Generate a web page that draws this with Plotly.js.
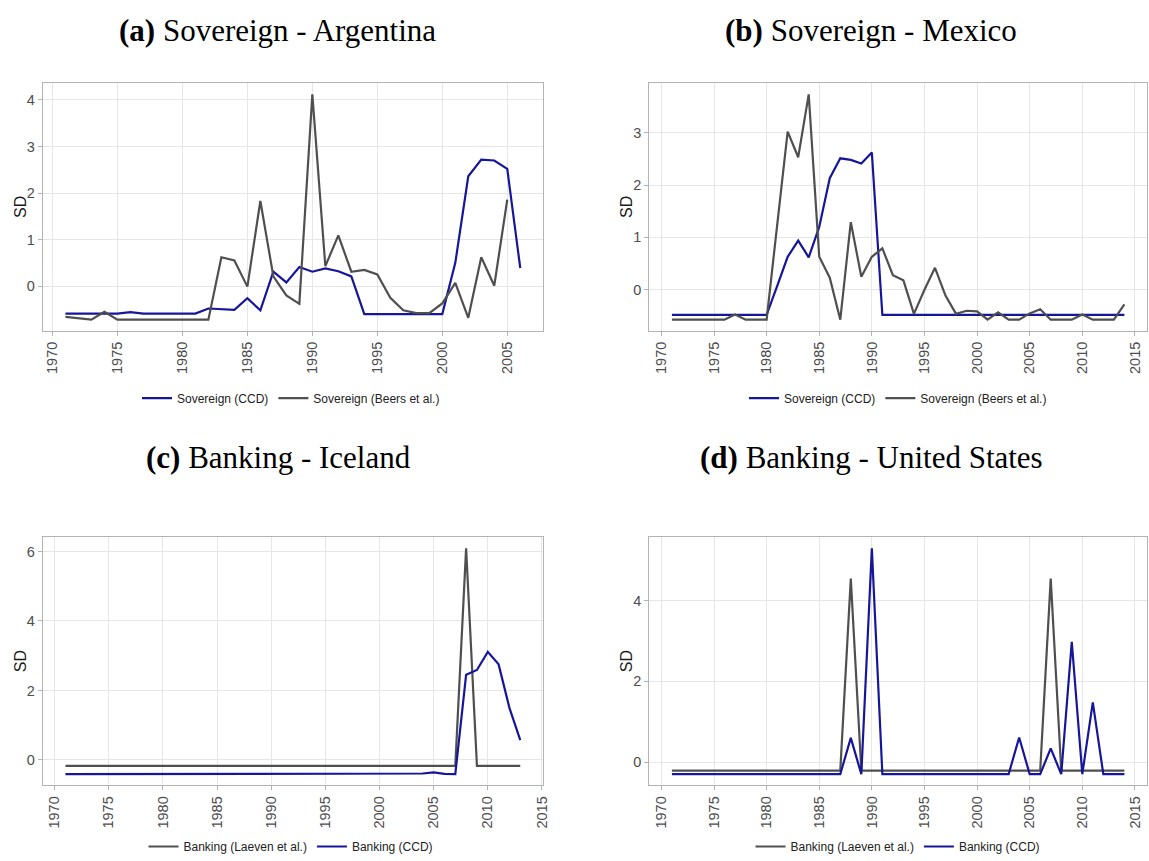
<!DOCTYPE html>
<html>
<head>
<meta charset="utf-8">
<script src="https://cdn.plot.ly/plotly-3.0.1.min.js"></script>
<style>html,body{margin:0;padding:0;background:#fff;}#chart{width:1149px;height:861px;}</style>
</head>
<body>
<div id="chart"></div>
<script>
// ---------- DATA ----------
const YEARS_ARG = [1971,1972,1973,1974,1975,1976,1977,1978,1979,1980,1981,1982,1983,1984,1985,1986,1987,1988,1989,1990,1991,1992,1993,1994,1995,1996,1997,1998,1999,2000,2001,2002,2003,2004,2005,2006];
const ARG_CCD = [-0.59,-0.59,-0.59,-0.59,-0.59,-0.56,-0.59,-0.59,-0.59,-0.59,-0.59,-0.48,-0.49,-0.51,-0.26,-0.52,0.31,0.08,0.41,0.31,0.38,0.32,0.21,-0.60,-0.60,-0.60,-0.60,-0.60,-0.60,-0.60,0.50,2.36,2.72,2.70,2.52,0.39];
const YEARS_ARG_BEERS = [1971,1972,1973,1974,1975,1976,1977,1978,1979,1980,1981,1982,1983,1984,1985,1986,1987,1988,1989,1990,1991,1992,1993,1994,1995,1996,1997,1998,1999,2000,2001,2002,2003,2004,2005];
const ARG_BEERS = [-0.66,-0.69,-0.72,-0.55,-0.72,-0.72,-0.72,-0.72,-0.72,-0.72,-0.72,-0.72,0.62,0.55,-0.01,1.83,0.21,-0.20,-0.38,4.12,0.43,1.09,0.31,0.35,0.25,-0.25,-0.52,-0.58,-0.58,-0.37,0.07,-0.68,0.62,0.01,1.86];

const YEARS_MEX = [1971,1972,1973,1974,1975,1976,1977,1978,1979,1980,1981,1982,1983,1984,1985,1986,1987,1988,1989,1990,1991,1992,1993,1994,1995,1996,1997,1998,1999,2000,2001,2002,2003,2004,2005,2006,2007,2008,2009,2010,2011,2012,2013,2014];
const MEX_CCD = [-0.48,-0.48,-0.48,-0.48,-0.48,-0.48,-0.48,-0.48,-0.48,-0.48,0.07,0.63,0.94,0.62,1.20,2.13,2.51,2.48,2.41,2.62,-0.48,-0.48,-0.48,-0.48,-0.48,-0.48,-0.48,-0.48,-0.48,-0.48,-0.48,-0.48,-0.48,-0.48,-0.48,-0.48,-0.48,-0.48,-0.48,-0.48,-0.48,-0.48,-0.48,-0.48];
const MEX_BEERS = [-0.57,-0.57,-0.57,-0.57,-0.57,-0.57,-0.47,-0.57,-0.57,-0.57,1.23,3.02,2.53,3.73,0.63,0.23,-0.57,1.29,0.25,0.63,0.79,0.28,0.18,-0.46,0.00,0.42,-0.11,-0.46,-0.40,-0.41,-0.57,-0.43,-0.57,-0.57,-0.45,-0.37,-0.57,-0.57,-0.57,-0.47,-0.57,-0.57,-0.57,-0.28];

const YEARS_ICE = [1971,1972,1973,1974,1975,1976,1977,1978,1979,1980,1981,1982,1983,1984,1985,1986,1987,1988,1989,1990,1991,1992,1993,1994,1995,1996,1997,1998,1999,2000,2001,2002,2003,2004,2005,2006,2007,2008,2009,2010,2011,2012,2013];
const ICE_LAEVEN = [-0.17,-0.17,-0.17,-0.17,-0.17,-0.17,-0.17,-0.17,-0.17,-0.17,-0.17,-0.17,-0.17,-0.17,-0.17,-0.17,-0.17,-0.17,-0.17,-0.17,-0.17,-0.17,-0.17,-0.17,-0.17,-0.17,-0.17,-0.17,-0.17,-0.17,-0.17,-0.17,-0.17,-0.17,-0.17,-0.17,-0.17,6.09,-0.17,-0.17,-0.17,-0.17,-0.17];
const ICE_CCD = [-0.41,-0.41,-0.41,-0.41,-0.41,-0.41,-0.41,-0.41,-0.41,-0.41,-0.41,-0.41,-0.41,-0.41,-0.41,-0.41,-0.41,-0.41,-0.41,-0.41,-0.41,-0.41,-0.41,-0.41,-0.41,-0.41,-0.41,-0.41,-0.41,-0.41,-0.41,-0.41,-0.41,-0.39,-0.36,-0.40,-0.41,2.45,2.59,3.11,2.75,1.50,0.57];

const YEARS_US = [1971,1972,1973,1974,1975,1976,1977,1978,1979,1980,1981,1982,1983,1984,1985,1986,1987,1988,1989,1990,1991,1992,1993,1994,1995,1996,1997,1998,1999,2000,2001,2002,2003,2004,2005,2006,2007,2008,2009,2010,2011,2012,2013,2014];
const US_LAEVEN = [-0.21,-0.21,-0.21,-0.21,-0.21,-0.21,-0.21,-0.21,-0.21,-0.21,-0.21,-0.21,-0.21,-0.21,-0.21,-0.21,-0.21,4.55,-0.21,-0.21,-0.21,-0.21,-0.21,-0.21,-0.21,-0.21,-0.21,-0.21,-0.21,-0.21,-0.21,-0.21,-0.21,-0.21,-0.21,-0.21,4.55,-0.21,-0.21,-0.21,-0.21,-0.21,-0.21,-0.21];
const US_CCD = [-0.30,-0.30,-0.30,-0.30,-0.30,-0.30,-0.30,-0.30,-0.30,-0.30,-0.30,-0.30,-0.30,-0.30,-0.30,-0.30,-0.30,0.60,-0.30,5.30,-0.30,-0.30,-0.30,-0.30,-0.30,-0.30,-0.30,-0.30,-0.30,-0.30,-0.30,-0.30,-0.30,0.61,-0.30,-0.30,0.34,-0.30,2.98,-0.30,1.48,-0.30,-0.30,-0.30];

const PANEL_TITLES = ['<b>(a)</b> Sovereign - Argentina','<b>(b)</b> Sovereign - Mexico','<b>(c)</b> Banking - Iceland','<b>(d)</b> Banking - United States'];
const NAMES_SOV = ['Sovereign (CCD)','Sovereign (Beers et al.)'];
const NAMES_BANK = ['Banking (Laeven et al.)','Banking (CCD)'];
const Y_TITLE = 'SD';

// ---------- STYLE ----------
const W = 1149, H = 861;
const BLUE = '#16169a', GREY = '#4f4f4f';
const px = v => v / W, py = v => 1 - v / H;
const XL = [42.7, 543], XR = [649.3, 1147];
const YT = [83.3, 331.7], YB = [538.3, 787.3];

function expand(arrs) {
  let lo = Infinity, hi = -Infinity;
  arrs.forEach(a => a.forEach(v => { if (v < lo) lo = v; if (v > hi) hi = v; }));
  const d = (hi - lo) * 0.05;
  return [lo - d, hi + d];
}

function line(x, y, name, color, ax, leg) {
  return { type: 'scatter', mode: 'lines', x: x, y: y, name: name,
    line: { color: color, width: 2.2 }, xaxis: 'x' + ax, yaxis: 'y' + ax,
    legend: leg, hoverinfo: 'skip' };
}

const data = [
  line(YEARS_ARG, ARG_CCD, NAMES_SOV[0], BLUE, '', 'legend'),
  line(YEARS_ARG_BEERS, ARG_BEERS, NAMES_SOV[1], GREY, '', 'legend'),
  line(YEARS_MEX, MEX_CCD, NAMES_SOV[0], BLUE, '2', 'legend2'),
  line(YEARS_MEX, MEX_BEERS, NAMES_SOV[1], GREY, '2', 'legend2'),
  line(YEARS_ICE, ICE_LAEVEN, NAMES_BANK[0], GREY, '3', 'legend3'),
  line(YEARS_ICE, ICE_CCD, NAMES_BANK[1], BLUE, '3', 'legend3'),
  line(YEARS_US, US_LAEVEN, NAMES_BANK[0], GREY, '4', 'legend4'),
  line(YEARS_US, US_CCD, NAMES_BANK[1], BLUE, '4', 'legend4')
];

const SANS = 'Liberation Sans, Arial, sans-serif';
const tickFont = { family: SANS, size: 14.5, color: '#4d4d4d' };
function xaxis(dom, yname, rng) {
  return { domain: [px(dom[0]), px(dom[1])], anchor: yname, range: rng,
    tickmode: 'linear', tick0: 1970, dtick: 5, tickangle: -90,
    showline: true, mirror: true, linecolor: '#b3b3b3', linewidth: 1,
    ticks: 'outside', ticklen: 4, tickcolor: '#b3b3b3', tickwidth: 1,
    showgrid: true, gridcolor: '#e6e6e6', gridwidth: 1, zeroline: false,
    tickfont: tickFont, fixedrange: true };
}
function yaxis(dom, xname, rng, dt) {
  return { domain: [py(dom[1]), py(dom[0])], anchor: xname, range: rng,
    tickmode: 'linear', tick0: 0, dtick: dt,
    showline: true, mirror: true, linecolor: '#b3b3b3', linewidth: 1,
    ticks: 'outside', ticklen: 4, tickcolor: '#b3b3b3', tickwidth: 1,
    showgrid: true, gridcolor: '#e6e6e6', gridwidth: 1, zeroline: false,
    tickfont: tickFont, fixedrange: true };
}

function legend(xc, yc, anchor) {
  return { orientation: 'h', x: px(xc), xanchor: 'center', y: py(yc), yanchor: anchor || 'middle',
    font: { family: SANS, size: 12, color: '#222' },
    bgcolor: 'rgba(0,0,0,0)', itemwidth: 30, traceorder: 'normal' };
}

function title(text, xc, yc) {
  return { text: text, xref: 'paper', yref: 'paper', x: px(xc), y: py(yc),
    xanchor: 'center', yanchor: 'middle', showarrow: false,
    font: { family: 'Liberation Serif, Times New Roman, serif', size: 31, color: '#000' } };
}

function ytitle(xc, dom) {
  return { text: Y_TITLE, xref: 'paper', yref: 'paper', x: px(xc), y: py((dom[0] + dom[1]) / 2),
    xanchor: 'center', yanchor: 'middle', showarrow: false, textangle: -90,
    font: { family: SANS, size: 16, color: '#1a1a1a' } };
}

const layout = {
  width: W, height: H, margin: { l: 0, r: 0, t: 0, b: 0 },
  paper_bgcolor: '#fff', plot_bgcolor: '#fff', showlegend: true,
  xaxis:  xaxis(XL, 'y',  expand([YEARS_ARG, YEARS_ARG_BEERS])),
  yaxis:  yaxis(YT, 'x',  expand([ARG_CCD, ARG_BEERS]), 1),
  xaxis2: xaxis(XR, 'y2', expand([YEARS_MEX])),
  yaxis2: yaxis(YT, 'x2', expand([MEX_CCD, MEX_BEERS]), 1),
  xaxis3: xaxis(XL, 'y3', expand([YEARS_ICE])),
  yaxis3: yaxis(YB, 'x3', expand([ICE_LAEVEN, ICE_CCD]), 2),
  xaxis4: xaxis(XR, 'y4', expand([YEARS_US])),
  yaxis4: yaxis(YB, 'x4', expand([US_LAEVEN, US_CCD]), 2),
  legend:  legend(291, 399),
  legend2: legend(898, 399),
  legend3: legend(291, 863, 'bottom'),
  legend4: legend(898, 863, 'bottom'),
  annotations: [
    title(PANEL_TITLES[0], 277, 31),
    title(PANEL_TITLES[1], 871, 31),
    title(PANEL_TITLES[2], 278, 459),
    title(PANEL_TITLES[3], 871, 459),
    ytitle(20, YT), ytitle(626, YT), ytitle(20, YB), ytitle(626, YB)
  ]
};

Plotly.newPlot('chart', data, layout, { displayModeBar: false, staticPlot: true });
</script>
</body>
</html>
